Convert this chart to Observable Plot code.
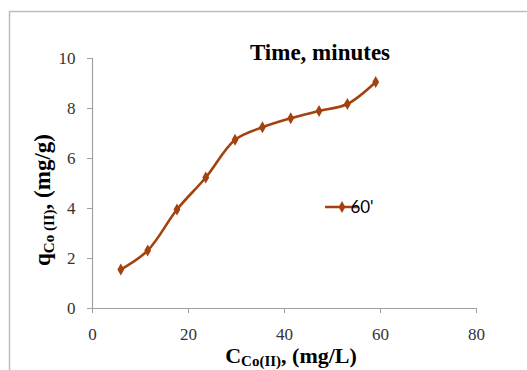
<!DOCTYPE html>
<html><head><meta charset="utf-8">
<script src="https://cdn.jsdelivr.net/npm/d3@7"></script>
<script src="https://cdn.jsdelivr.net/npm/@observablehq/plot@0.6"></script>
<style>html,body{margin:0;padding:0;background:#fff} svg{display:block}</style>
</head><body><div id="chart"></div>
<script>
const concentration = [5.9, 11.5, 17.6, 23.6, 29.7, 35.4, 41.3, 47.2, 53.1, 59.0];
const uptake = [1.56, 2.32, 3.96, 5.24, 6.75, 7.25, 7.61, 7.9, 8.18, 9.06];
const xTicks = [0, 20, 40, 60, 80];
const yTicks = [0, 2, 4, 6, 8, 10];
const seriesName = "60'";
const titleText = "Time, minutes";

const data = concentration.map((c, i) => ({c, q: uptake[i]}));
const color = "#a3420f";
const axisGray = "#a0a0a0";
const serif = "'Liberation Serif', 'Times New Roman', serif";

const plot = Plot.plot({
  width: 527, height: 370,
  marginLeft: 92, marginRight: 51, marginTop: 58, marginBottom: 62,
  style: {fontFamily: serif, fontSize: "17px", color: "#333", background: "#fff", overflow: "visible"},
  x: {domain: [0, 80], label: null},
  y: {domain: [0, 10], label: null},
  marks: [
    Plot.ruleY([0], {stroke: axisGray, strokeWidth: 1.2}),
    Plot.ruleX([0], {stroke: axisGray, strokeWidth: 1.2}),
    Plot.axisX({ticks: xTicks, tickSize: 5, tickPadding: 14, stroke: axisGray, fill: "#333", fontSize: 17, fontFamily: serif, label: null}),
    Plot.axisY({ticks: yTicks, tickSize: 5, tickPadding: 12, stroke: axisGray, fill: "#333", fontSize: 17, fontFamily: serif, label: null}),
    Plot.line(data, {x: "c", y: "q", stroke: color, strokeWidth: 2.6, curve: "catmull-rom"}),
    Plot.dot(data, {x: "c", y: "q", symbol: "diamond", r: 3.6, fill: color, stroke: "none"})
  ]
});

const svg = d3.select(plot);
svg.selectAll("g").filter(function(){ return this.getAttribute("font-family") !== null; }).attr("font-family", serif);
svg.selectAll("text").style("font-family", serif).attr("font-family", serif);

// outer frame
svg.insert("rect", ":first-child")
  .attr("x", 9.5).attr("y", 11.5).attr("width", 530).attr("height", 380)
  .attr("fill", "#fff").attr("stroke", "#bdbdbd").attr("stroke-width", 1.5);

// title
svg.append("text").attr("x", 320).attr("y", 60).attr("text-anchor", "middle")
  .attr("font-family", serif).attr("font-weight", "bold").attr("font-size", 23).attr("fill", "#000")
  .text(titleText);

// y label
const yl = svg.append("text").attr("transform", "translate(50,200) rotate(-90)")
  .attr("text-anchor", "middle").attr("font-family", serif).attr("font-weight", "bold")
  .attr("font-size", 23).attr("fill", "#000");
yl.append("tspan").text("q");
yl.append("tspan").attr("font-size", 15).attr("dy", 4).text("Co (II)");
yl.append("tspan").attr("dy", -4).text(", (mg/g)");

// x label
const xl = svg.append("text").attr("x", 291).attr("y", 363)
  .attr("text-anchor", "middle").attr("font-family", serif).attr("font-weight", "bold")
  .attr("font-size", 22).attr("fill", "#000");
xl.append("tspan").text("C");
xl.append("tspan").attr("font-size", 15).attr("dy", 3).text("Co(II)");
xl.append("tspan").attr("dy", -3).text(", (mg/L)");

// legend
const lg = svg.append("g");
lg.append("line").attr("x1", 325).attr("x2", 358).attr("y1", 207).attr("y2", 207)
  .attr("stroke", color).attr("stroke-width", 2.6);
lg.append("path").attr("d", d3.symbol(d3.symbolDiamond, 40)()).attr("transform", "translate(342,207)")
  .attr("fill", color);
lg.append("text").attr("x", 362).attr("y", 213).attr("font-family", "Lato, 'Open Sans', sans-serif")
  .attr("font-size", 17).attr("fill", "#000").text(seriesName);

document.getElementById("chart").appendChild(plot);
</script>
</body></html>
